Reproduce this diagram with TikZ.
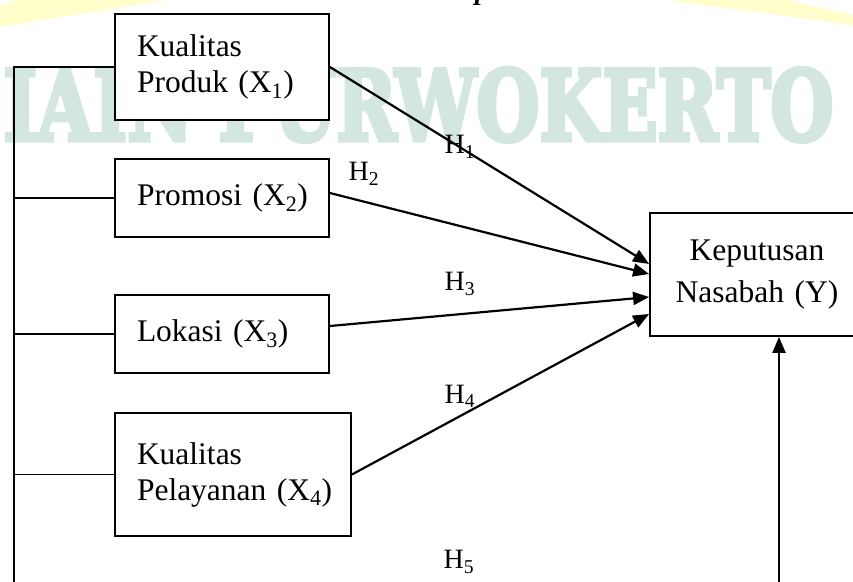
\documentclass[tikz,border=0pt]{standalone}
\usepackage{fontspec}
\setmainfont{Liberation Serif}
\newfontfamily\wmfont{DejaVu Serif Bold}[FakeBold=5]
\usepackage{graphicx}
\usetikzlibrary{arrows.meta}
\definecolor{wmgreen}{HTML}{D3E6DF}
\definecolor{wmyellow}{HTML}{FFFFCC}

\begin{document}
\begin{tikzpicture}[x=1pt, y=-1pt,
  varbox/.style={draw, line width=1.8pt, fill=white, align=left, inner ysep=0pt, inner xsep=22pt,
    font=\fontsize{31.5}{36}\selectfont},
  hyp/.style={inner sep=0pt, font=\fontsize{28}{30}\selectfont},
  arr/.style={line width=2.2pt, -{Triangle[length=16pt,width=13pt]}},
  bus/.style={line width=1.8pt}]
\useasboundingbox (0,0) rectangle (853,581);
\clip (0,0) rectangle (853,581);
% watermark behind the diagram
\fill[wmyellow] (0,5) -- (20,0) -- (167,0) -- (0,27) -- cycle;
\fill[wmyellow] (667,0) -- (787,0) -- (853,15) -- (853,25) -- cycle;
\node[text=wmgreen, inner sep=0pt, anchor=north west] (wm) at (3,68)
  {\resizebox{830pt}{72pt}{\wmfont IAIN PURWOKERTO}};
\node[anchor=base, inner sep=0pt, font=\fontsize{28}{30}\selectfont] (pg) at (482,-1) {\textbf{\textit{p}}};

% variables
\node[varbox, text width=170pt, minimum height=106pt] (x1) at (222,67) {Kualitas\\\mbox{Produk (X\textsubscript{1})}};
\node[varbox, text width=170pt, minimum height=78pt] (x2) at (222,198) {\mbox{Promosi (X\textsubscript{2})}};
\node[varbox, text width=170pt, minimum height=78pt] (x3) at (222,334) {\mbox{Lokasi (X\textsubscript{3})}};
\node[varbox, text width=192pt, minimum height=123pt] (x4) at (233,474.5) {Kualitas\\\mbox{Pelayanan (X\textsubscript{4})}};
\node[varbox, align=center, text width=170pt, minimum height=123pt,
  font=\fontsize{31.5}{42}\selectfont] (y) at (757,274.5) {Keputusan\\Nasabah (Y)};

% simultaneous path (H5)
\coordinate (busbot) at (14,600);
\coordinate (ybot) at (779,600);
\draw[bus] (x1.west) -| (busbot) -- (ybot);
\foreach \v in {x2,x3,x4}
  \draw[bus] (\v.west) -- (\v.west -| busbot);
\draw[arr] (ybot) -- (ybot |- y.south);

% partial paths
\draw[arr] (x1.east) -- ([yshift=10.5pt]y.west);
\draw[arr] ([yshift=5pt]x2.east) -- ([yshift=0.5pt]y.west);
\draw[arr] ([yshift=8pt]x3.east) -- ([yshift=-22.5pt]y.west);
\draw[arr] (x4.east) -- ([yshift=-39.5pt]y.west);

\node[hyp] (h1) at (460,147) {H\textsubscript{1}};
\node[hyp] (h2) at (364,174) {H\textsubscript{2}};
\node[hyp] (h3) at (460,284) {H\textsubscript{3}};
\node[hyp] (h4) at (460,396) {H\textsubscript{4}};
\node[hyp] (h5) at (459,562) {H\textsubscript{5}};
\end{tikzpicture}
\end{document}
